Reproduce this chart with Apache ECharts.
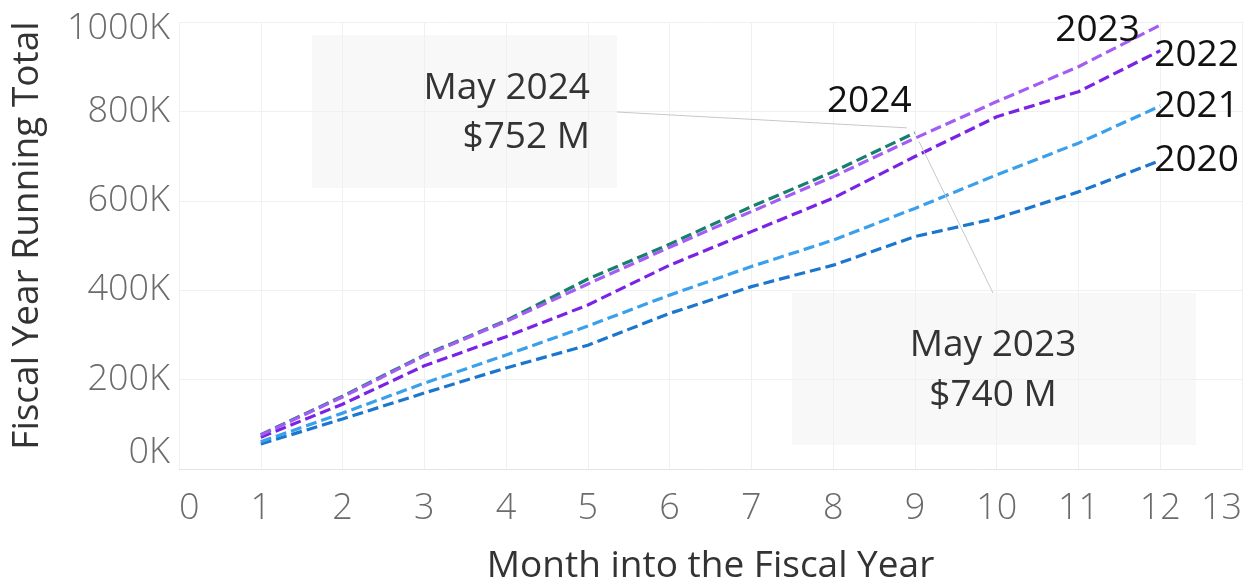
<!DOCTYPE html>
<html>
<head>
<meta charset="utf-8">
<script src="https://cdn.jsdelivr.net/npm/echarts@6/dist/echarts.min.js"></script>
<style>
html,body{margin:0;padding:0;background:#fff;}
#chart{width:1250px;height:581px;}
</style>
</head>
<body>
<div id="chart"></div>
<script>
// Month into fiscal year
const months = [1, 2, 3, 4, 5, 6, 7, 8, 9, 10, 11, 12];
// Running totals (K)
const fy2020 = [56, 112, 170, 226, 277, 348, 408, 456, 520, 561, 620, 690];
const fy2021 = [61, 125, 192, 255, 320, 389, 453, 512, 583, 658, 729, 812];
const fy2022 = [71, 145, 231, 296, 367, 456, 531, 606, 699, 788, 844, 936];
const fy2023 = [76, 161, 253, 330, 414, 496, 576, 654, 740, 822, 900, 993];
const fy2024 = [77, 163, 255, 332, 425, 503, 587, 665, 752];
const yearNames = ['2020', '2021', '2022', '2023', '2024'];
const xTicks = [0, 13];
const yTicks = [0, 1000];
const annotations = [
  { lines: ['May 2024', '$752 M'], series: '2024', month: 9, value: 752 },
  { lines: ['May 2023', '$740 M'], series: '2023', month: 9, value: 740 }
];

const FONT = '"Open Sans", "Noto Sans", sans-serif';
const colors = {
  '2020': '#1b76cd',
  '2021': '#3aa0ec',
  '2022': '#7a22e6',
  '2023': '#a35cf4',
  '2024': '#16806c'
};
const dataByYear = { '2020': fy2020, '2021': fy2021, '2022': fy2022, '2023': fy2023, '2024': fy2024 };

const endLabelCfg = {
  '2020': { offset: [-6, 0] },
  '2021': { offset: [-6, 0] },
  '2022': { offset: [-6, 5] },
  '2023': { offset: [-105, 5] },
  '2024': { offset: [-88, -31] }
};

const order = ['2020', '2021', '2022', '2024', '2023'];
const series = order.map(name => ({
  name: name,
  type: 'line',
  data: dataByYear[name].map((v, i) => [months[i], v]),
  showSymbol: false,
  symbol: 'none',
  lineStyle: { color: colors[name], width: 3.2, type: [11, 5] },
  endLabel: Object.assign({
    show: true,
    position: 'right',
    distance: 0,
    formatter: '{a}',
    color: '#111',
    fontSize: 37,
    fontFamily: FONT
  }, endLabelCfg[name]),
  emphasis: { disabled: true }
}));

const tickFont = { fontSize: 36, fontFamily: FONT, fontWeight: 300, color: '#6b6b6b' };

const chart = echarts.init(document.getElementById('chart'), null, { renderer: 'canvas' });
chart.setOption({
  animation: false,
  grid: { left: 179, right: 8, top: 22, bottom: 112, containLabel: false, outerBoundsMode: 'none' },
  xAxis: {
    type: 'value', min: xTicks[0], max: xTicks[1], interval: 1,
    name: 'Month into the Fiscal Year', nameLocation: 'middle', nameGap: 79,
    nameTextStyle: { fontSize: 37, fontFamily: FONT, color: '#333' },
    axisLine: { show: true, lineStyle: { color: '#e4e4e4', width: 1 } },
    axisTick: { show: false },
    splitLine: { show: true, lineStyle: { color: '#f0f0f0', width: 1 } },
    axisLabel: Object.assign({ margin: 22, alignMinLabel: 'left', alignMaxLabel: 'right' }, tickFont)
  },
  yAxis: {
    type: 'value', min: yTicks[0], max: yTicks[1], interval: 200,
    name: 'Fiscal Year Running Total', nameLocation: 'middle', nameGap: 133,
    nameTextStyle: { fontSize: 37, fontFamily: FONT, color: '#333', padding: [0, 0, 0, 20] },
    axisLine: { show: false },
    axisTick: { show: false },
    splitLine: { show: true, lineStyle: { color: '#f0f0f0', width: 1 } },
    axisLabel: Object.assign({
      margin: 9,
      formatter: function (v) {
        if (v === 0) return '{lo|0K}';
        if (v === 1000) return '{hi|1000K}';
        return v + 'K';
      },
      rich: {
        lo: Object.assign({ padding: [0, 0, 32, 0] }, tickFont),
        hi: Object.assign({ padding: [14, 0, 0, 0] }, tickFont)
      }
    }, tickFont)
  },
  series: series
});

// Annotation boxes (layout) with connector lines to data points
const p24 = chart.convertToPixel({ gridIndex: 0 }, [annotations[0].month, annotations[0].value]);
const p23 = chart.convertToPixel({ gridIndex: 0 }, [annotations[1].month, annotations[1].value]);
const annoFont = { fontSize: 37, fontFamily: FONT, fill: '#333' };
chart.setOption({
  graphic: [
    { type: 'rect', z: -10, shape: { x: 312, y: 35, width: 305, height: 153 }, style: { fill: '#f8f8f8' } },
    { type: 'rect', z: -10, shape: { x: 792, y: 293, width: 404, height: 152 }, style: { fill: '#f8f8f8' } },
    { type: 'line', z: 5, shape: { x1: 617, y1: 112, x2: p24[0] - 8, y2: p24[1] - 5 }, style: { stroke: '#c8c8c8', lineWidth: 1 } },
    { type: 'line', z: 5, shape: { x1: 993, y1: 293, x2: p23[0] + 4, y2: p23[1] + 3 }, style: { stroke: '#c8c8c8', lineWidth: 1 } },
    { type: 'text', z: 100, style: Object.assign({ text: annotations[0].lines[0], x: 590, y: 88, align: 'right', verticalAlign: 'middle' }, annoFont) },
    { type: 'text', z: 100, style: Object.assign({ text: annotations[0].lines[1], x: 590, y: 137, align: 'right', verticalAlign: 'middle' }, annoFont) },
    { type: 'text', z: 100, style: Object.assign({ text: annotations[1].lines[0], x: 993, y: 345, align: 'center', verticalAlign: 'middle' }, annoFont) },
    { type: 'text', z: 100, style: Object.assign({ text: annotations[1].lines[1], x: 993, y: 395, align: 'center', verticalAlign: 'middle' }, annoFont) }
  ]
});
</script>
</body>
</html>
